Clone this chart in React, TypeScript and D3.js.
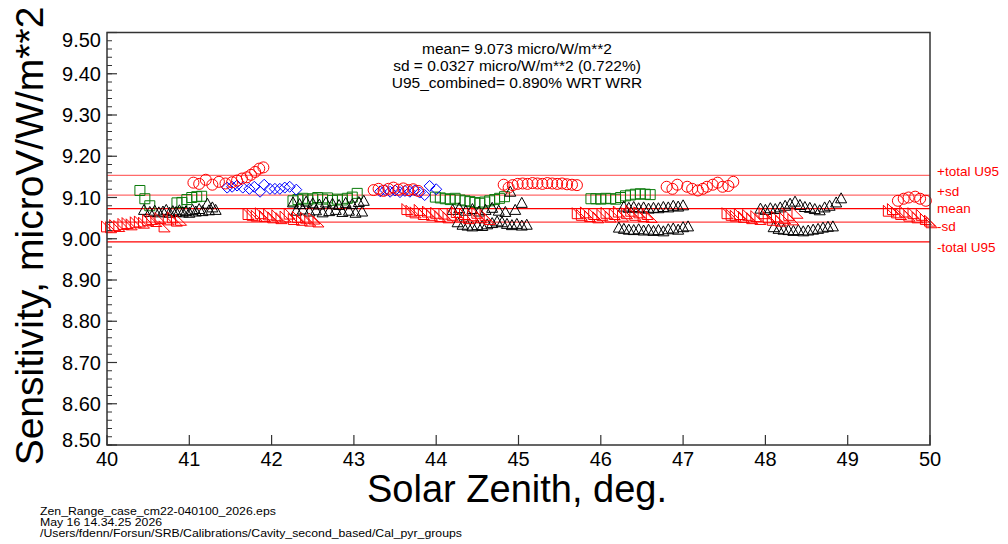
import React from "react";
import * as d3 from "d3";

type Pt = [number, number];

// ---- data (zenith deg, sensitivity) ----
const redCircles: Pt[] = [
  [41.05, 9.136], [41.12, 9.133], [41.2, 9.143], [41.28, 9.131], [41.36, 9.138], [41.44, 9.134], [41.52, 9.137],
  [41.58, 9.141], [41.64, 9.146], [41.7, 9.149], [41.75, 9.155], [41.8, 9.162], [41.85, 9.17], [41.9, 9.173],
  [43.24, 9.118], [43.3, 9.121], [43.36, 9.116], [43.42, 9.121], [43.48, 9.124], [43.54, 9.119], [43.6, 9.122],
  [43.66, 9.118], [43.72, 9.12], [43.78, 9.116],
  [44.82, 9.131], [44.88, 9.124], [44.93, 9.13], [44.99, 9.133], [45.05, 9.134], [45.11, 9.133], [45.17, 9.135],
  [45.23, 9.134], [45.29, 9.133], [45.35, 9.135], [45.41, 9.134], [45.47, 9.133], [45.53, 9.134], [45.59, 9.132],
  [45.65, 9.131], [45.71, 9.13],
  [46.8, 9.126], [46.87, 9.121], [46.93, 9.131], [47.05, 9.126], [47.11, 9.121], [47.18, 9.117], [47.24, 9.121],
  [47.29, 9.126], [47.36, 9.131], [47.42, 9.136], [47.48, 9.126], [47.55, 9.128], [47.61, 9.138],
  [49.61, 9.092], [49.68, 9.097], [49.74, 9.1], [49.82, 9.102], [49.88, 9.097], [49.95, 9.092],
];

const blueDiamonds: Pt[] = [
  [41.46, 9.124], [41.52, 9.126], [41.58, 9.129], [41.65, 9.124], [41.73, 9.121], [41.79, 9.126], [41.86, 9.114],
  [41.91, 9.131], [41.98, 9.121], [42.04, 9.121], [42.1, 9.121], [42.16, 9.124], [42.22, 9.126], [42.3, 9.119],
  [43.32, 9.115], [43.38, 9.118], [43.44, 9.114], [43.5, 9.117], [43.56, 9.113], [43.62, 9.116], [43.68, 9.114],
  [43.74, 9.117], [43.8, 9.112], [43.86, 9.106], [43.92, 9.128], [44.0, 9.12],
];

const greenSquares: Pt[] = [
  [40.4, 9.117], [40.46, 9.097], [40.52, 9.08], [40.85, 9.087], [40.91, 9.088], [40.97, 9.095], [41.03, 9.1],
  [41.09, 9.102], [41.15, 9.103],
  [42.26, 9.092], [42.32, 9.095], [42.38, 9.098], [42.44, 9.094], [42.5, 9.097], [42.56, 9.1], [42.62, 9.096],
  [42.68, 9.099], [42.74, 9.093], [42.8, 9.096], [42.86, 9.094], [42.92, 9.098], [42.98, 9.101], [43.04, 9.11],
  [43.99, 9.101], [44.05, 9.099], [44.11, 9.097], [44.17, 9.095], [44.23, 9.098], [44.29, 9.094], [44.35, 9.092],
  [44.41, 9.09], [44.47, 9.088], [44.53, 9.086], [44.59, 9.089], [44.65, 9.092], [44.71, 9.095], [44.77, 9.098],
  [44.83, 9.102],
  [45.88, 9.097], [45.94, 9.097], [46.0, 9.096], [46.06, 9.098], [46.12, 9.097], [46.18, 9.096], [46.24, 9.1],
  [46.3, 9.104], [46.36, 9.106], [46.42, 9.108], [46.48, 9.109], [46.54, 9.108], [46.6, 9.107],
];

const blackTriangles: Pt[] = [
  [40.45, 9.07], [40.52, 9.065], [40.58, 9.068], [40.63, 9.064], [40.68, 9.066], [40.72, 9.07], [40.76, 9.063],
  [40.8, 9.067], [40.84, 9.065], [40.88, 9.069], [40.92, 9.064], [40.96, 9.067], [41.0, 9.063], [41.04, 9.07],
  [41.08, 9.066], [41.12, 9.072], [41.16, 9.067], [41.22, 9.085], [41.24, 9.069], [41.28, 9.076], [41.32, 9.07],
  [42.26, 9.088], [42.34, 9.084], [42.42, 9.09], [42.5, 9.086], [42.58, 9.083], [42.66, 9.088], [42.74, 9.085],
  [42.82, 9.082], [42.9, 9.087], [42.98, 9.084], [43.06, 9.089], [43.12, 9.092],
  [42.3, 9.068], [42.38, 9.071], [42.46, 9.066], [42.54, 9.069], [42.62, 9.064], [42.7, 9.067], [42.78, 9.07],
  [42.86, 9.065], [42.94, 9.068], [43.02, 9.063], [43.1, 9.066],
  [44.2, 9.07], [44.28, 9.074], [44.36, 9.068], [44.44, 9.072], [44.52, 9.066], [44.6, 9.07], [44.68, 9.075],
  [44.76, 9.068], [44.84, 9.065], [44.9, 9.114], [44.96, 9.07], [45.04, 9.087],
  [44.26, 9.04], [44.32, 9.034], [44.38, 9.032], [44.44, 9.03], [44.5, 9.033], [44.56, 9.031], [44.62, 9.035],
  [44.68, 9.038], [44.74, 9.042], [44.8, 9.04], [44.86, 9.036], [44.92, 9.033], [44.98, 9.036], [45.04, 9.032],
  [45.1, 9.034],
  [46.28, 9.078], [46.34, 9.075], [46.4, 9.077], [46.46, 9.074], [46.52, 9.076], [46.58, 9.073], [46.64, 9.075],
  [46.7, 9.074], [46.76, 9.077], [46.82, 9.076], [46.88, 9.08], [46.94, 9.078], [47.0, 9.081],
  [46.22, 9.027], [46.28, 9.024], [46.34, 9.022], [46.4, 9.021], [46.46, 9.023], [46.52, 9.02], [46.58, 9.022],
  [46.64, 9.019], [46.7, 9.021], [46.76, 9.018], [46.82, 9.023], [46.88, 9.025], [46.94, 9.022], [47.0, 9.028],
  [47.06, 9.03],
  [47.94, 9.073], [48.0, 9.07], [48.06, 9.074], [48.12, 9.072], [48.18, 9.076], [48.24, 9.08], [48.3, 9.085],
  [48.36, 9.09], [48.42, 9.082], [48.48, 9.077], [48.54, 9.075], [48.6, 9.072], [48.66, 9.069], [48.72, 9.076],
  [48.78, 9.08], [48.86, 9.088], [48.92, 9.098],
  [48.1, 9.028], [48.16, 9.024], [48.22, 9.022], [48.28, 9.021], [48.34, 9.019], [48.4, 9.021], [48.46, 9.018],
  [48.52, 9.02], [48.58, 9.022], [48.64, 9.024], [48.7, 9.027], [48.76, 9.029], [48.82, 9.03],
];

const redTriangles: Pt[] = [
  [40.0, 9.03], [40.05, 9.028], [40.1, 9.033], [40.15, 9.031], [40.2, 9.036], [40.25, 9.038], [40.3, 9.035],
  [40.35, 9.04], [40.4, 9.042], [40.45, 9.039], [40.5, 9.045], [40.55, 9.048], [40.6, 9.043], [40.65, 9.05],
  [40.7, 9.03], [40.75, 9.047], [40.8, 9.052], [40.85, 9.044], [40.9, 9.046],
  [41.72, 9.06], [41.77, 9.058], [41.82, 9.056], [41.87, 9.062], [41.92, 9.055], [41.97, 9.059], [42.02, 9.052],
  [42.07, 9.057], [42.12, 9.05], [42.17, 9.054], [42.22, 9.061], [42.27, 9.048], [42.32, 9.053], [42.37, 9.046],
  [42.42, 9.051], [42.47, 9.044], [42.52, 9.049], [42.57, 9.042],
  [43.65, 9.072], [43.7, 9.068], [43.75, 9.064], [43.8, 9.07], [43.85, 9.06], [43.9, 9.066], [43.95, 9.058],
  [44.0, 9.063], [44.05, 9.055], [44.1, 9.061], [44.15, 9.052], [44.2, 9.058], [44.25, 9.065], [44.3, 9.054],
  [44.35, 9.06], [44.4, 9.05], [44.45, 9.057], [44.5, 9.063], [44.55, 9.052], [44.6, 9.058], [44.65, 9.048],
  [45.72, 9.062], [45.77, 9.058], [45.82, 9.064], [45.87, 9.055], [45.92, 9.06], [45.97, 9.052], [46.02, 9.058],
  [46.07, 9.063], [46.12, 9.054], [46.17, 9.06], [46.22, 9.066], [46.27, 9.056], [46.32, 9.062], [46.37, 9.068],
  [46.42, 9.058], [46.47, 9.064], [46.52, 9.055], [46.57, 9.06], [46.62, 9.053],
  [47.54, 9.062], [47.59, 9.058], [47.64, 9.056], [47.69, 9.06], [47.74, 9.053], [47.79, 9.058], [47.84, 9.05],
  [47.89, 9.055], [47.94, 9.048], [47.99, 9.062], [48.04, 9.052], [48.09, 9.046], [48.14, 9.054], [48.19, 9.044],
  [48.24, 9.05], [48.29, 9.058], [48.34, 9.047], [48.39, 9.063],
  [49.5, 9.068], [49.55, 9.072], [49.6, 9.064], [49.65, 9.06], [49.7, 9.066], [49.75, 9.056], [49.8, 9.062],
  [49.85, 9.052], [49.9, 9.058], [49.95, 9.048], [50.0, 9.044], [50.02, 9.04],
];

// statistics
const meanVal = 9.073;
const sdVal = 0.0327;
const u95Pct = 0.89;

const refLines = [
  { label: "+total U95", value: meanVal * (1 + u95Pct / 100), dy: 1, color: "#ff6a6a" },
  { label: "+sd", value: meanVal + sdVal, dy: 1, color: "#ff6a6a" },
  { label: "mean", value: meanVal, dy: 4, color: "#ff0000" },
  { label: "-sd", value: meanVal - sdVal, dy: 9, color: "#ff4040" },
  { label: "-total U95", value: meanVal * (1 - u95Pct / 100), dy: 10, color: "#ff0000" },
];

const xTicks = [40, 41, 42, 43, 44, 45, 46, 47, 48, 49, 50];
const yTicks = [8.5, 8.6, 8.7, 8.8, 8.9, 9.0, 9.1, 9.2, 9.3, 9.4, 9.5];

const statLines = [
  "mean= 9.073 micro/W/m**2",
  "sd = 0.0327 micro/W/m**2 (0.722%)",
  "U95_combined= 0.890% WRT WRR",
];
const footer = [
  "Zen_Range_case_cm22-040100_2026.eps",
  "May 16 14.34.25 2026",
  "/Users/fdenn/Forsun/SRB/Calibrations/Cavity_second_based/Cal_pyr_groups",
];

const W = 1008;
const H = 544;
const L = 107, R = 930, T = 32.5, B = 445;
const FONT = "'Liberation Sans', Arial, Helvetica, sans-serif";

export default function App() {
  const x = d3.scaleLinear().domain([40, 50]).range([L, R]);
  const y = d3.scaleLinear().domain([8.5, 9.5]).range([B, T]);
  const minorY = d3.range(8.5, 9.5001, 0.02);

  const s = 5.5;
  const diamond = `M0,${-s}L${s},0L0,${s}L${-s},0Z`;
  const square = `M${-5},${-5}H5V5H-5Z`;
  const upTri = `M0,${-5.5}L5.5,4.5L-5.5,4.5Z`;
  const cornerTri = `M${-s},${-s}L${-s},${s}L${s},${s}Z`;

  const labelShift = (v: number) => (v >= 9.5 - 1e-9 ? 7 : v <= 8.5 + 1e-9 ? -5 : 0);

  return (
    <svg width={W} height={H} style={{ position: "absolute", left: 0, top: 0, background: "#fff" }} fontFamily={FONT}>
      <rect x={0} y={0} width={W} height={H} fill="#fff" />
      {/* reference lines */}
      {refLines.map((r) => (
        <g key={r.label}>
          <line x1={L} x2={R} y1={y(r.value)} y2={y(r.value)} stroke={r.color} strokeWidth={1.3} />
          <text x={937} y={y(r.value) + r.dy} fontSize={13.5} fill="#ff0000">{r.label}</text>
        </g>
      ))}
      {/* markers */}
      <g fill="none" strokeWidth={1}>
        {greenSquares.map((p, i) => (
          <path key={"g" + i} d={square} transform={`translate(${x(p[0])},${y(p[1])})`} stroke="#0a7a0a" />
        ))}
        {blackTriangles.map((p, i) => (
          <path key={"k" + i} d={upTri} transform={`translate(${x(p[0])},${y(p[1])})`} stroke="#000" />
        ))}
        {redTriangles.map((p, i) => (
          <path key={"t" + i} d={cornerTri} transform={`translate(${x(p[0])},${y(p[1])})`} stroke="#ff0000" />
        ))}
        {blueDiamonds.map((p, i) => (
          <path key={"b" + i} d={diamond} transform={`translate(${x(p[0])},${y(p[1])})`} stroke="#0000ff" />
        ))}
        {redCircles.map((p, i) => (
          <circle key={"c" + i} cx={x(p[0])} cy={y(p[1])} r={5.5} stroke="#ff0000" />
        ))}
      </g>
      {/* frame */}
      <rect x={L} y={T} width={R - L} height={B - T} fill="none" stroke="#333" strokeWidth={1.5} />
      {/* y ticks */}
      {minorY.map((v, i) => (
        <line key={"my" + i} x1={L} x2={L + 5} y1={y(v)} y2={y(v)} stroke="#333" strokeWidth={1} />
      ))}
      {yTicks.map((v) => (
        <g key={"y" + v}>
          <line x1={L} x2={L + 10} y1={y(v)} y2={y(v)} stroke="#333" strokeWidth={1.2} />
          <text x={101} y={y(v) + 7 + labelShift(v)} fontSize={20} textAnchor="end" fill="#000">{v.toFixed(2)}</text>
        </g>
      ))}
      {/* x ticks */}
      {xTicks.map((v) => (
        <g key={"x" + v}>
          <line x1={x(v)} x2={x(v)} y1={B} y2={B - 10} stroke="#333" strokeWidth={1.2} />
          <text x={x(v)} y={466} fontSize={20} textAnchor="middle" fill="#000">{v}</text>
        </g>
      ))}
      {/* axis titles */}
      <text x={517} y={502} fontSize={38} textAnchor="middle" fill="#000">Solar Zenith, deg.</text>
      <text transform="translate(43,236) rotate(-90)" fontSize={39} textAnchor="middle" fill="#000">
        Sensitivity, microV/W/m**2
      </text>
      {/* stats */}
      {statLines.map((t, i) => (
        <text key={t} x={517} y={54 + i * 17} fontSize={15.5} textAnchor="middle" fill="#000">{t}</text>
      ))}
      {/* footer */}
      {footer.map((t, i) => (
        <text key={t} x={40} y={515 + i * 11} fontSize={10.5} fill="#000"
          transform={`translate(40,0) scale(1.17,1) translate(-40,0)`}>{t}</text>
      ))}
    </svg>
  );
}
